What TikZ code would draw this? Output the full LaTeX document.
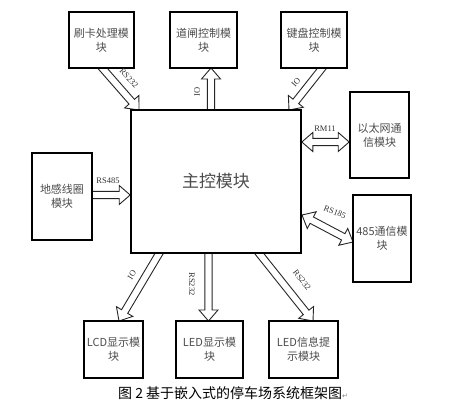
\documentclass[tikz,border=0pt]{standalone}
\usepackage{fontspec}
\setmainfont{Liberation Serif}
\newfontfamily\cjk{Noto Sans CJK SC}
\newfontfamily\djv{DejaVu Sans}
\usetikzlibrary{calc,backgrounds}
\newcommand{\sarrow}[2]{%
  \coordinate (hbX) at ($(#2)!11pt!(#1)$);
  \draw[blkarrow] ($(#1)!3.6pt!90:(#2)$) -- ($(hbX)!3.6pt!90:(#2)$) -- ($(hbX)!9.5pt!90:(#2)$) -- (#2)
    -- ($(hbX)!9.5pt!-90:(#2)$) -- ($(hbX)!3.6pt!-90:(#2)$) -- ($(#1)!3.6pt!-90:(#2)$) -- cycle;}
\newcommand{\darrow}[2]{%
  \coordinate (haX) at ($(#1)!11pt!(#2)$);
  \coordinate (hbX) at ($(#2)!11pt!(#1)$);
  \draw[blkarrow] (#1) -- ($(haX)!9.5pt!90:(#2)$) -- ($(haX)!3.6pt!90:(#2)$) -- ($(hbX)!3.6pt!90:(#2)$)
    -- ($(hbX)!9.5pt!90:(#2)$) -- (#2) -- ($(hbX)!9.5pt!-90:(#2)$) -- ($(hbX)!3.6pt!-90:(#2)$)
    -- ($(haX)!3.6pt!-90:(#2)$) -- ($(haX)!9.5pt!-90:(#2)$) -- cycle;}
\begin{document}
\begin{tikzpicture}[x=1pt,y=-1pt,
  box/.style={draw=black,line width=1.6pt,fill=white,inner sep=1pt,align=center,
    font=\cjk\fontsize{11}{14}\selectfont,text=black!70},
  blkarrow/.style={draw=black!85,line width=0.9pt,fill=white,line join=miter},
  lbl/.style={font=\fontsize{8.5}{10}\selectfont,text=black!80,inner sep=0pt}]
\useasboundingbox (0,0) rectangle (475,411);
% nodes
\node[box,minimum width=65pt,minimum height=56pt] (card) at (101.5,40) {刷卡处理模\\块};
\node[box,minimum width=67pt,minimum height=56pt] (gate) at (203.5,40) {道闸控制模\\块};
\node[box,minimum width=66pt,minimum height=56pt] (key) at (314,40) {键盘控制模\\块};
\node[box,minimum width=170pt,minimum height=143pt,font=\cjk\fontsize{17}{20}\selectfont] (main) at (216,181.5) {主控模块};
\node[box,minimum width=59pt,minimum height=86pt] (eth) at (379.5,135) {以太网通\\信模块};
\node[box,minimum width=58pt,minimum height=87pt] (rs) at (382,238.5) {485通信模\\块};
\node[box,minimum width=60pt,minimum height=87pt] (loop) at (62,196.5) {地感线圈\\模块};
\node[box,minimum width=59pt,minimum height=57pt] (lcd) at (113.5,349.5) {LCD显示模\\块};
\node[box,minimum width=67pt,minimum height=57pt] (led) at (209.5,349.5) {LED显示模\\块};
\node[box,minimum width=69pt,minimum height=57pt] (info) at (303.5,349.5) {LED信息提\\示模块};
% connector end points
\coordinate (a1s) at (97,62);   \coordinate (a1e) at (139,110);
\coordinate (a2s) at (211,116); \coordinate (a2e) at (211,68);
\coordinate (a3s) at (327,62);  \coordinate (a3e) at (289,110);
\coordinate (a4s) at (main.east |- 0,142); \coordinate (a4e) at (eth.west |- 0,142);
\coordinate (a5s) at (86,195);  \coordinate (a5e) at (main.west |- 0,195);
\coordinate (a6s) at (302,215); \coordinate (a6e) at (353,242);
\coordinate (a7s) at (163,247); \coordinate (a7e) at (119,321);
\coordinate (a8s) at (208.5,247); \coordinate (a8e) at (208.5,321);
\coordinate (a9s) at (254,247); \coordinate (a9e) at (313,321);
\begin{scope}[on background layer]
\fill[white] (0,0) rectangle (475,411);
\sarrow{a1s}{a1e}
\sarrow{a2s}{a2e}
\sarrow{a3s}{a3e}
\darrow{a4s}{a4e}
\sarrow{a5s}{a5e}
\darrow{a6s}{a6e}
\sarrow{a7s}{a7e}
\sarrow{a8s}{a8e}
\sarrow{a9s}{a9e}
\end{scope}
% labels
\node[lbl,rotate=-47] (l1) at (129,78) {RS232};
\node[lbl,rotate=90] (l2) at (197,92) {IO};
\node[lbl,rotate=50] (l3) at (296,82) {IO};
\node[lbl] (l4) at (325,129) {RM11};
\node[lbl] (l5) at (108,181) {RS485};
\node[lbl,rotate=-22] (l6) at (335,212) {RS185};
\node[lbl,rotate=58] (l7) at (132,275) {IO};
\node[lbl,rotate=-90] (l8) at (192,284) {RS232};
\node[lbl,rotate=-52] (l9) at (302,280) {RS232};
\node[inner sep=0pt,anchor=west,font=\cjk\fontsize{14}{16}\selectfont] (cap) at (118,393)
  {图 2 基于嵌入式的停车场系统框架图{\djv\fontsize{7}{8}\selectfont\color{black!50}↵}};
\end{tikzpicture}
\end{document}
